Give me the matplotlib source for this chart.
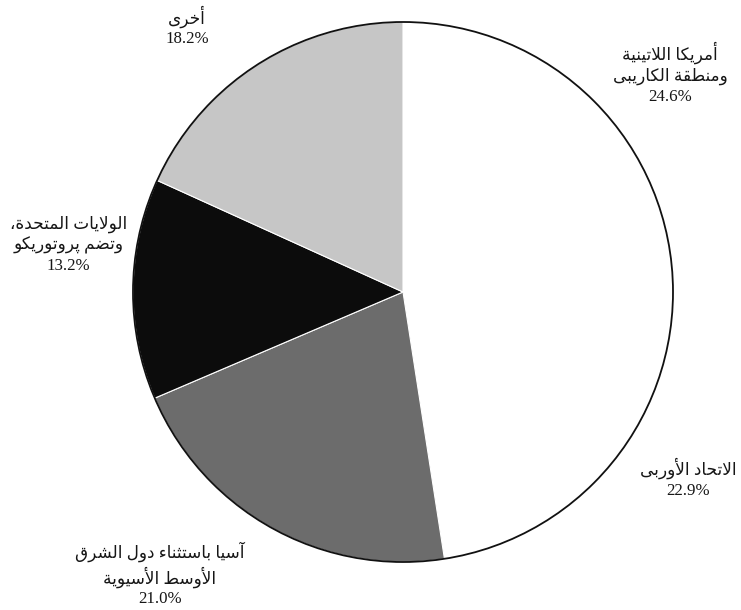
import matplotlib

matplotlib.use("Agg")
import matplotlib.pyplot as plt
from matplotlib.patches import Circle

# ---- dados ----
regions = [
    "أمريكا اللاتينية\nومنطقة الكاريبى",
    "الاتحاد الأوربى",
    "آسيا باستثناء دول الشرق\nالأوسط الأسيوية",
    "الولايات المتحدة،\nوتضم پروتوريكو",
    "أخرى",
]
shares = [24.6, 22.9, 21.0, 13.2, 18.2]
colors = ["#ffffff", "#ffffff", "#6c6c6c", "#0c0c0c", "#c6c6c6"]

# posição dos rótulos (em raios, a partir do centro)
label_xy = [(0.99, 0.81), (1.055, -0.69), (-0.90, -1.045), (-1.24, 0.175), (-0.80, 0.985)]

# ---- formas de apresentação árabes (matplotlib não faz shaping) ----
_TWO = {"\u0622": 0xFE81, "\u0623": 0xFE83, "\u0624": 0xFE85, "\u0625": 0xFE87,
        "\u0627": 0xFE8D, "\u0629": 0xFE93, "\u062F": 0xFEA9, "\u0630": 0xFEAB,
        "\u0631": 0xFEAD, "\u0632": 0xFEAF, "\u0648": 0xFEED, "\u0649": 0xFEEF}
_FOUR = {"\u0626": 0xFE89, "\u0628": 0xFE8F, "\u062A": 0xFE95, "\u062B": 0xFE99,
         "\u062C": 0xFE9D, "\u062D": 0xFEA1, "\u062E": 0xFEA5, "\u0633": 0xFEB1,
         "\u0634": 0xFEB5, "\u0635": 0xFEB9, "\u0636": 0xFEBD, "\u0637": 0xFEC1,
         "\u0638": 0xFEC5, "\u0639": 0xFEC9, "\u063A": 0xFECD, "\u0641": 0xFED1,
         "\u0642": 0xFED5, "\u0643": 0xFED9, "\u0644": 0xFEDD, "\u0645": 0xFEE1,
         "\u0646": 0xFEE5, "\u0647": 0xFEE9, "\u064A": 0xFEF1, "\u067E": 0xFB56}
_LAM_ALEF = {"\u0622": 0xFEF5, "\u0623": 0xFEF7, "\u0625": 0xFEF9, "\u0627": 0xFEFB}


def _jtype(tok):
    c = tok[0]
    if c == "LA" or c in _TWO:
        return "R"
    if c in _FOUR:
        return "D"
    return "U"


def shape(line):
    toks, i = [], 0
    while i < len(line):
        c = line[i]
        if c == "\u0644" and i + 1 < len(line) and line[i + 1] in _LAM_ALEF:
            toks.append(("LA", line[i + 1]))
            i += 2
        else:
            toks.append((c, None))
            i += 1
    out = []
    for k, tok in enumerate(toks):
        t = _jtype(tok)
        prev = k > 0 and _jtype(toks[k - 1]) == "D" and t in "DR"
        nxt = k + 1 < len(toks) and t == "D" and _jtype(toks[k + 1]) in "DR"
        c = tok[0]
        if c == "LA":
            out.append(chr(_LAM_ALEF[tok[1]] + prev))
        elif t == "D":
            out.append(chr(_FOUR[c] + (3 if prev and nxt else 1 if prev else 2 if nxt else 0)))
        elif t == "R":
            out.append(chr(_TWO[c] + prev))
        else:
            out.append(c)
    return "".join(reversed(out))


# ---- figura ----
W, H, R = 741, 610, 270
cx, cy = 403, 292
fig = plt.figure(figsize=(W / 100, H / 100), dpi=100)
ax = fig.add_axes([0, 0, 1, 1])

ax.pie(
    shares,
    colors=colors,
    startangle=90,
    counterclock=False,
    radius=1,
    wedgeprops={"edgecolor": "white", "linewidth": 0.8},
)
ax.add_patch(Circle((0, 0), 1, fill=False, edgecolor="#111111", linewidth=1.3))

for name, val, (x, y) in zip(regions, shares, label_xy):
    lines = [shape(s) for s in name.split("\n")] + [f"{val:.1f}%"]
    ax.text(
        x, y, "\n".join(lines),
        ha="center", va="center", multialignment="center",
        fontsize=12.2, linespacing=1.28, color="#161616",
        family=["Liberation Serif", "DejaVu Sans"],
    )

ax.set_xlim(-cx / R, (W - cx) / R)
ax.set_ylim(-(H - cy) / R, cy / R)
ax.set_aspect("auto")
ax.axis("off")

fig.savefig("out.png", dpi=100, facecolor="white")
